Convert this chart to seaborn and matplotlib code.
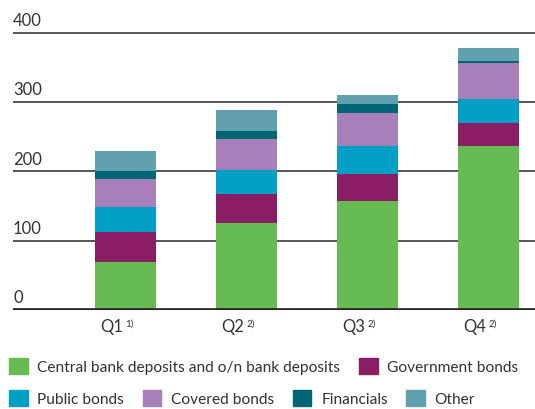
import numpy as np
import matplotlib.pyplot as plt
import matplotlib.patches as mpatches
import matplotlib.transforms as mtransforms
import pandas as pd
import seaborn as sns

# data
quarters = ["Q1", "Q2", "Q3", "Q4"]
footnotes = ["1)", "2)", "2)", "2)"]
central_bank = [70, 126, 157, 236]
government = [42, 41, 40, 34]
public = [37, 35, 39, 34]
covered = [40, 45, 48, 53]
financials = [12, 12, 13, 3]
other = [29, 29, 14, 18]

series_names = ["Central bank deposits and o/n bank deposits", "Government bonds",
                "Public bonds", "Covered bonds", "Financials", "Other"]
colores = ["#66bb52", "#8a1d63", "#009fc5", "#a780b9", "#006674", "#61a0af"]
yticks = [0, 100, 200, 300, 400]

sns.set_style("white")
plt.rcParams["font.family"] = ["Lato", "DejaVu Sans"]
texto = "#333333"

df = pd.DataFrame({"quarter": quarters, "c": central_bank, "g": government, "p": public,
                   "cv": covered, "f": financials, "o": other})
cols = ["c", "g", "p", "cv", "f", "o"]
# cumulative tops, draw tallest first
acum = df[cols].cumsum(axis=1)

fig = plt.figure(figsize=(5.35, 4.10), dpi=100)
ax = fig.add_axes([13 / 535, 99 / 410, 522 / 535, 291 / 410])

for i in range(len(cols) - 1, -1, -1):
    sns.barplot(x=df["quarter"], y=acum[cols[i]], color=colores[i], width=0.504,
                saturation=1, ax=ax, zorder=2, linewidth=0)

for v in yticks[1:]:
    ax.axhline(v, color="#555555", lw=1.4, zorder=1)
ax.axhline(0, color="#222222", lw=2.6, zorder=3)

ax.set_ylim(0, 420)
ax.set_xlim(-0.93, 3.384)
ax.set_ylabel("")
ax.set_xlabel("")
ax.set_yticks([])
for s in ax.spines.values():
    s.set_visible(False)

trans = ax.get_yaxis_transform()
for v in yticks:
    ax.text(0, v + 7, str(v), transform=trans, ha="left", va="bottom",
            fontsize=12, color=texto)

# quarter labels with raised footnote marks
ax.set_xticks(range(len(quarters)))
ax.set_xticklabels([])
ax.tick_params(axis="x", length=0)
xtrans = ax.get_xaxis_transform()
for i, (q, fn) in enumerate(zip(quarters, footnotes)):
    off_q = mtransforms.ScaledTranslation(-2 / 100, -8 / 100, fig.dpi_scale_trans)
    ax.text(i, 0, q, transform=xtrans + off_q, ha="right", va="top",
            fontsize=12, color=texto)
    off_f = mtransforms.ScaledTranslation(0, -8.5 / 100, fig.dpi_scale_trans)
    ax.text(i, 0, fn, transform=xtrans + off_f, ha="left", va="top",
            fontsize=7, color=texto)

handles = [mpatches.Patch(color=c, label=n) for c, n in zip(colores, series_names)]
kw = dict(frameon=False, fontsize=11.2, handlelength=1.2, handleheight=1.2,
          handletextpad=0.62, columnspacing=1.2, borderaxespad=0, borderpad=0,
          labelcolor=texto)
leg1 = fig.legend(handles=handles[:2], ncol=2, loc="upper left",
                  bbox_to_anchor=(9 / 535, 1 - 359 / 410), **kw)
leg2 = fig.legend(handles=handles[2:], ncol=4, loc="upper left",
                  bbox_to_anchor=(9 / 535, 1 - 391 / 410), **kw)

fig.savefig("out.png", dpi=100)
